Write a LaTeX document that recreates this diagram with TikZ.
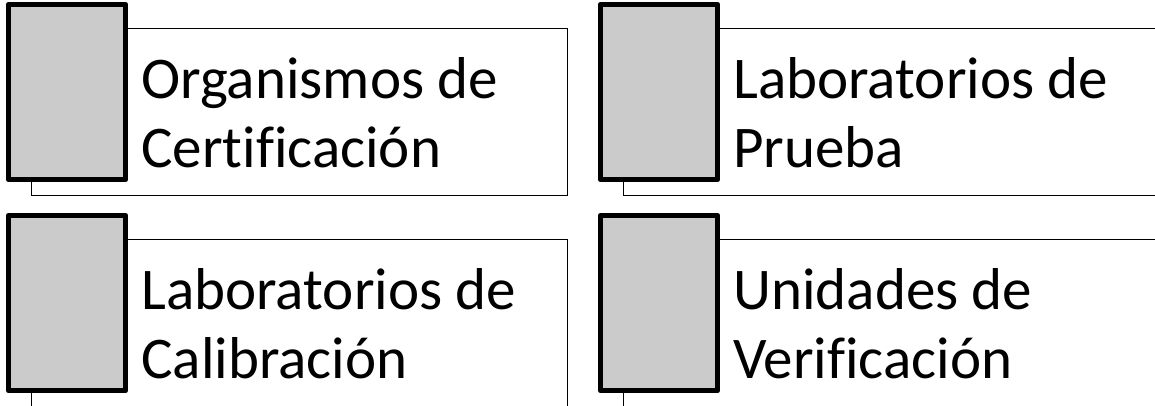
\documentclass[tikz,border=0pt]{standalone}
\usepackage{fontspec}
\setmainfont{Carlito}[Ligatures=CommonOff]
\usepackage{tikz}
\usetikzlibrary{positioning,calc}
\definecolor{cText}{HTML}{000000}
\definecolor{cTab}{HTML}{CBCBCB}
\tikzset{
  txtbox/.style={draw=black, line width=0.75pt, fill=white,
                 minimum width=402pt, minimum height=125.25pt, inner sep=0pt},
  tabblk/.style={draw=black, line width=4pt, line join=round, fill=cTab,
                 minimum width=87.75pt, minimum height=131.25pt, inner sep=0pt},
  lbl/.style={font=\fontsize{44.3pt}{51.75pt}\selectfont, text=cText,
              align=left, inner sep=0pt, anchor=base west}
}

\begin{document}
\begin{tikzpicture}[x=0.75pt, y=-0.75pt]
\useasboundingbox (0,0) rectangle (1155,405);
\clip (0,0) rectangle (1155,405);
% top row
\node[txtbox] (orgbox) at (299.5,112) {};
\node[tabblk] (orgtab) at (67,92) {};
\node[lbl] (orglbl) at ($(orgbox.north west)+(110,139)$) {Organismos de\\Certificación};
\node[txtbox] (prubox) at (891.5,112) {};
\node[tabblk] (prutab) at (659,92) {};
\node[lbl] (prulbl) at ($(prubox.north west)+(110,139)$) {Laboratorios de\\Prueba};
% bottom row (cut off by the page edge)
\node[txtbox] (calbox) at (299.5,323) {};
\node[tabblk] (caltab) at (67,303) {};
\node[lbl] (callbl) at ($(calbox.north west)+(110,139)$) {Laboratorios de\\Calibración};
\node[txtbox] (verbox) at (891.5,323) {};
\node[tabblk] (vertab) at (659,303) {};
\node[lbl] (verlbl) at ($(verbox.north west)+(110,139)$) {Unidades de\\Verificación};
\end{tikzpicture}
\end{document}
